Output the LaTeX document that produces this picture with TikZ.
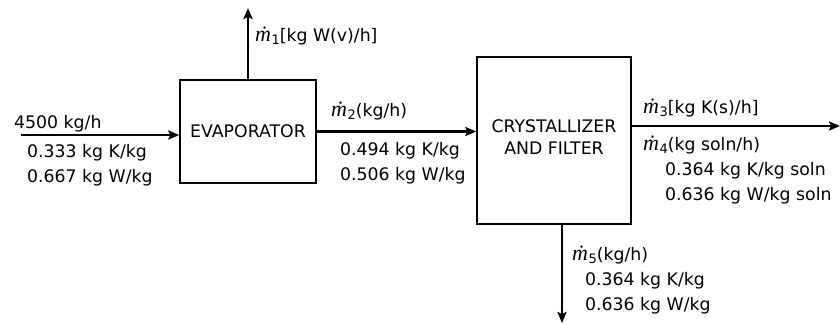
\documentclass[tikz,border=0pt]{standalone}
\usepackage{fontspec}
\setmainfont{DejaVu Sans}
\newfontfamily\mfont{Liberation Serif}
\usetikzlibrary{arrows.meta}
\newcommand\mdt[1]{{\mfont\itshape\fontsize{22}{22}\selectfont\.m}\kern0.5pt\raisebox{-3pt}{\fontsize{13}{13}\selectfont #1}}
\begin{document}
\begin{tikzpicture}[x=1pt,y=-1pt,
  every node/.style={font=\fontsize{17.3}{20}\selectfont, inner sep=0pt},
  lbl/.style={anchor=base west},
  flow/.style={line width=2.4pt, -{Stealth[length=11pt,width=9pt,inset=2pt]}}]
\useasboundingbox (0,0) rectangle (840,324);
% boxes
\node[draw, line width=1.4pt, minimum width=136pt, minimum height=103pt] (evap) at (248,131.5) {};
\node (evapt) at (248,131) {EVAPORATOR};
\node[draw, line width=1.4pt, minimum width=154pt, minimum height=167pt] (cryst) at (554,140.5) {};
\node[align=center] (crystt) at (554,137) {CRYSTALLIZER\\[2pt]AND FILTER};
% free ends
\coordinate (in) at (21,135);
\coordinate (out1) at (248,8);
\coordinate (out3) at (840,126);
\coordinate (out5) at (562,323);
% connectors
\draw[flow] (in) -- (in -| evap.west);
\draw[flow] (evap.north) -- (out1);
\draw[flow] (evap.east) -- (evap.east -| cryst.west);
\draw[flow] (cryst.east |- out3) -- (out3);
\draw[flow] (out5 |- cryst.south) -- (out5);
% labels
\node[lbl] (l0) at (14,128) {4500 kg/h};
\node[lbl] (l0a) at (27,157) {0.333 kg K/kg};
\node[lbl] (l0b) at (27,182) {0.667 kg W/kg};
\node[lbl] (l1) at (255,41) {\mdt{1}[kg W(v)/h]};
\node[lbl] (l2) at (331,116) {\mdt{2}(kg/h)};
\node[lbl] (l2a) at (340,155) {0.494 kg K/kg};
\node[lbl] (l2b) at (340,180) {0.506 kg W/kg};
\node[lbl] (l3) at (643,113) {\mdt{3}[kg K(s)/h]};
\node[lbl] (l4) at (643,150) {\mdt{4}(kg soln/h)};
\node[lbl] (l4a) at (665,175) {0.364 kg K/kg soln};
\node[lbl] (l4b) at (665,200) {0.636 kg W/kg soln};
\node[lbl] (l5) at (572,260) {\mdt{5}(kg/h)};
\node[lbl] (l5a) at (585,285) {0.364 kg K/kg};
\node[lbl] (l5b) at (585,310) {0.636 kg W/kg};
\end{tikzpicture}
\end{document}
